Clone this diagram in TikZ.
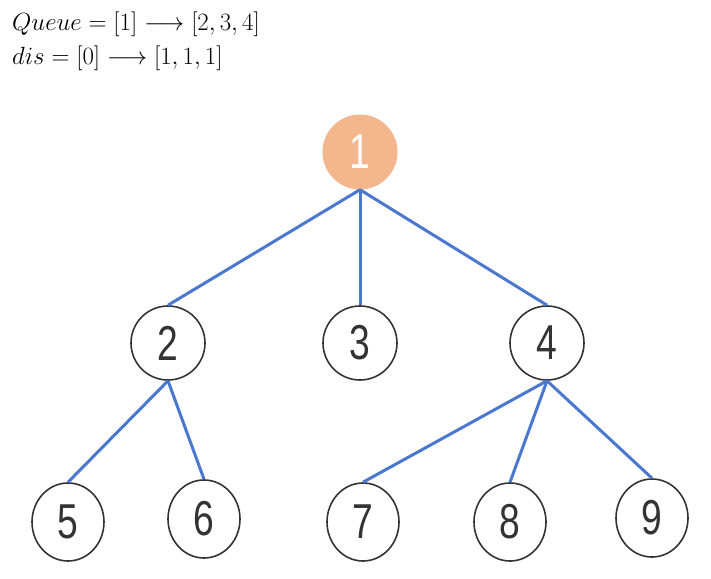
\documentclass[tikz,border=0pt]{standalone}
\usepackage{amsmath}
\usepackage{fontspec}
\usepackage{tikz}
\usetikzlibrary{shapes.geometric}
\newfontfamily\digitfont{Liberation Sans}
\definecolor{bfsorange}{HTML}{F4B68C}
\definecolor{bfsblue}{HTML}{4A78CF}
\definecolor{bfsgrey}{HTML}{333333}
\newcommand{\nodenum}[1]{\scalebox{0.76}[1]{\digitfont\fontsize{49}{49}\selectfont #1}}

\begin{document}
\begin{tikzpicture}[x=1pt, y=-1pt,
    vert/.style={draw=bfsgrey, ellipse, line width=1.6pt, minimum width=74pt,
                 minimum height=74pt, inner sep=0pt, text=bfsgrey},
    leaf/.style={vert, minimum width=72pt, minimum height=78pt},
    root/.style={circle, fill=bfsorange, minimum size=75pt, inner sep=0pt, text=white},
    edge/.style={bfsblue, line width=3pt}]
  \useasboundingbox (0,0) rectangle (711,578);
  % header
  \node[anchor=base west, inner sep=0pt, font=\fontsize{26}{31}\selectfont] (queue) at (12,31)
    {$Queue = [1] \longrightarrow [2,3,4]$};
  \node[anchor=base west, inner sep=0pt, font=\fontsize{26}{31}\selectfont] (dis) at (12,64)
    {$dis = [0] \longrightarrow [1,1,1]$};
  % tree
  \node[root] (n1) at (360,152) {\nodenum{1}};
  \node[vert] (n2) at (168,343) {\nodenum{2}};
  \node[vert] (n3) at (360,343) {\nodenum{3}};
  \node[vert] (n4) at (547,343) {\nodenum{4}};
  \node[leaf] (n5) at (68,522) {\nodenum{5}};
  \node[leaf] (n6) at (204,519) {\nodenum{6}};
  \node[leaf] (n7) at (363,522) {\nodenum{7}};
  \node[leaf] (n8) at (510,522) {\nodenum{8}};
  \node[leaf] (n9) at (652,518) {\nodenum{9}};
  \draw[edge] (n1.south) -- (n2.north); \draw[edge] (n1.south) -- (n3.north);
  \draw[edge] (n1.south) -- (n4.north);
  \draw[edge] (n2.south) -- (n5.north); \draw[edge] (n2.south) -- (n6.north);
  \draw[edge] (n4.south) -- (n7.north); \draw[edge] (n4.south) -- (n8.north);
  \draw[edge] (n4.south) -- (n9.north);
\end{tikzpicture}
\end{document}
